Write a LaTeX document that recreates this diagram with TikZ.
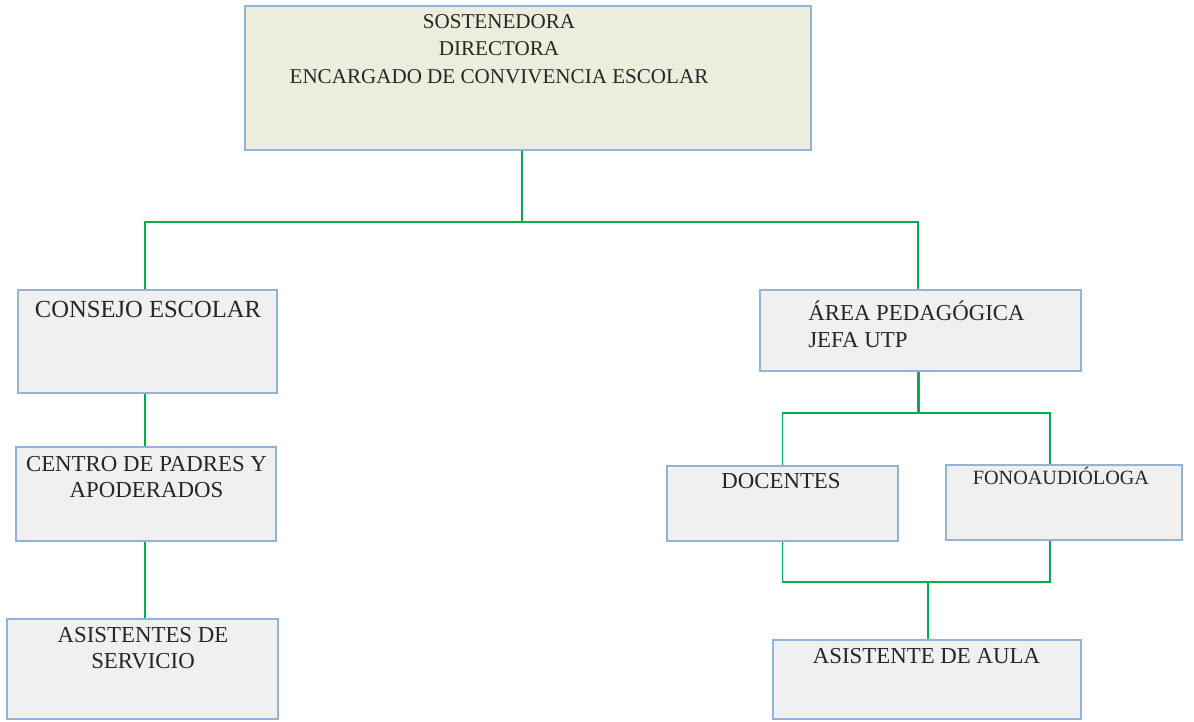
\documentclass[tikz,border=0pt]{standalone}
\usepackage{fontspec}
\setmainfont{Liberation Serif}
\usetikzlibrary{positioning}
\definecolor{orgline}{RGB}{0,176,80}
\definecolor{boxedge}{RGB}{149,179,215}
\definecolor{boxfill}{RGB}{240,240,240}
\definecolor{topfill}{RGB}{235,238,221}

\begin{document}
\begin{tikzpicture}[x=0.02cm, y=-0.02cm,
  box/.style={draw=boxedge, line width=0.85pt, fill=boxfill, inner sep=0pt},
  txt/.style={anchor=base, inner sep=0pt, align=center, text=black!85},
  link/.style={draw=orgline, line width=1.1pt},
  trunk/.style={draw=orgline, line width=1.7pt}]
  \useasboundingbox (0,0) rectangle (1194,721);

  % boxes
  \node[box, fill=topfill, minimum width=11.32cm, minimum height=2.88cm] (top) at (528,78) {};
  \node[box, minimum width=5.18cm, minimum height=2.06cm] (consejo) at (147.5,341.5) {};
  \node[box, minimum width=5.2cm, minimum height=1.88cm] (centro) at (146,494) {};
  \node[box, minimum width=5.42cm, minimum height=2cm] (asist) at (142.5,669) {};
  \node[box, minimum width=6.42cm, minimum height=1.62cm] (area) at (920.5,330.5) {};
  \node[box, minimum width=4.62cm, minimum height=1.5cm] (docentes) at (782.5,503.5) {};
  \node[box, minimum width=4.72cm, minimum height=1.5cm] (fono) at (1064,502.5) {};
  \node[box, minimum width=6.16cm, minimum height=1.58cm] (aula) at (927,679.5) {};

  % texts (base = last line)
  \node[txt, font=\fontsize{12}{15.6}\selectfont] (toptxt) at (499,83) {SOSTENEDORA\\DIRECTORA\\ENCARGADO DE CONVIVENCIA ESCOLAR};
  \node[txt, font=\fontsize{14}{16}\selectfont] (consejotxt) at (148,317) {CONSEJO ESCOLAR};
  \node[txt, font=\fontsize{13}{14.3}\selectfont] (centrotxt) at (146.5,497) {CENTRO DE PADRES Y\\APODERADOS};
  \node[txt, font=\fontsize{13}{14.8}\selectfont] (asisttxt) at (143,668) {ASISTENTES DE\\SERVICIO};
  \node[txt, anchor=base west, align=left, font=\fontsize{13}{15.3}\selectfont] (areatxt) at (808,347) {ÁREA PEDAGÓGICA\\JEFA UTP};
  \node[txt, font=\fontsize{13}{15}\selectfont] (docentestxt) at (781,488) {DOCENTES};
  \node[txt, font=\fontsize{11.5}{14}\selectfont] (fonotxt) at (1061,484) {FONOAUDIÓLOGA};
  \node[txt, font=\fontsize{13}{15}\selectfont] (aulatxt) at (926.5,663) {ASISTENTE DE AULA};

  % connectors
  \coordinate (j1) at (522,222);
  \coordinate (j2) at (918,413);
  \coordinate (j4) at (928,582);
  \coordinate (lx) at (145,0);
  \coordinate (fx) at (1050,0);
  \draw[trunk] (j1 |- top.south) -- (j1);
  \draw[link] (j1) -| (consejo.north -| lx);
  \draw[link] (j1) -| (area.north -| j2);
  \draw[link] (consejo.south -| lx) -- (centro.north -| lx);
  \draw[link] (centro.south -| lx) -- (asist.north -| lx);
  \draw[trunk] (j2 |- area.south) -- (j2);
  \draw[link] (j2) -| (docentes.north);
  \draw[link] (j2) -| (fono.north -| fx);
  \draw[link] (docentes.south) |- (j4) -| (fono.south -| fx);
  \draw[link] (j4) -- (j4 |- aula.north);
\end{tikzpicture}
\end{document}
